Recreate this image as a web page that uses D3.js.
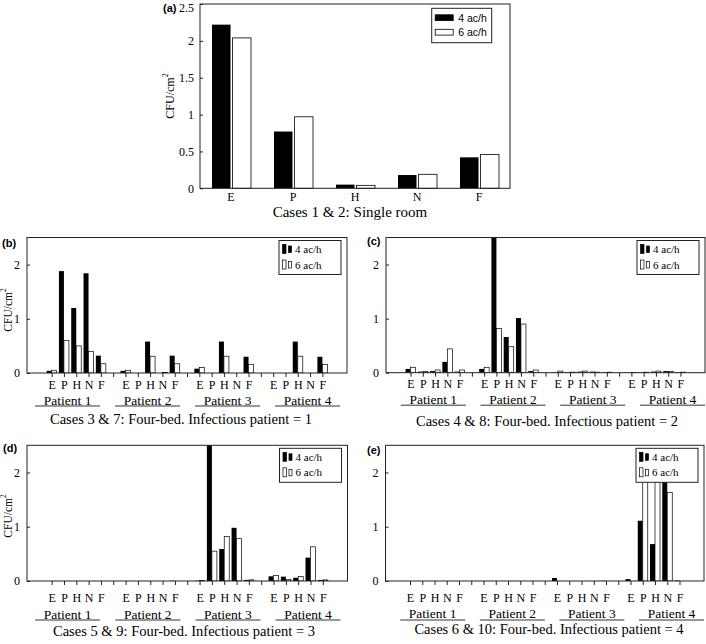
<!DOCTYPE html>
<html>
<head>
<meta charset="utf-8">
<script src="https://cdn.jsdelivr.net/npm/d3@7"></script>
<style>
  html, body { margin: 0; padding: 0; background: #fff; }
  svg { display: block; }
  text { fill: #000; }
</style>
</head>
<body>
<svg id="chart" width="706" height="644"></svg>
<script>
// ---------------- DATA ----------------
const categories = ["E", "P", "H", "N", "F"];
const patients = ["Patient 1", "Patient 2", "Patient 3", "Patient 4"];
const seriesNames = ["4 ac/h", "6 ac/h"];
const yTicksSingle = [0, 0.5, 1, 1.5, 2, 2.5];
const yTicksFour = [0, 1, 2];

// (a) single room, values per category E,P,H,N,F
const singleRoom4 = [2.22, 0.77, 0.05, 0.18, 0.42];
const singleRoom6 = [2.04, 0.97, 0.04, 0.19, 0.46];

// (b)-(e) four-bed, patient-major order: P1 E,P,H,N,F, P2 ..., P3 ..., P4 ...
const caseB4 = [0.04, 1.88, 1.20, 1.84, 0.32,  0.04, 0, 0.58, 0, 0.32,  0.08, 0, 0.58, 0, 0.30,  0, 0, 0.58, 0, 0.30];
const caseB6 = [0.05, 0.60, 0.50, 0.40, 0.17,  0.05, 0, 0.31, 0.01, 0.17,  0.10, 0, 0.31, 0, 0.16,  0, 0, 0.31, 0, 0.16];
const caseC4 = [0.07, 0.02, 0.03, 0.20, 0.02,  0.07, 2.8, 0.66, 1.01, 0.03,  0.01, 0.01, 0.02, 0.02, 0.01,  0.005, 0.01, 0.02, 0.03, 0.01];
const caseC6 = [0.10, 0.02, 0.05, 0.44, 0.05,  0.10, 0.82, 0.48, 0.90, 0.05,  0.03, 0.01, 0.03, 0.01, 0.01,  0.005, 0.01, 0.03, 0.02, 0.01];
const caseD4 = [0, 0, 0, 0, 0,  0, 0, 0, 0, 0.005,  0.005, 2.8, 0.59, 0.98, 0.02,  0.086, 0.08, 0.06, 0.43, 0.02];
const caseD6 = [0, 0, 0, 0, 0,  0, 0, 0, 0, 0,  0.01, 0.55, 0.82, 0.78, 0.02,  0.10, 0.03, 0.086, 0.63, 0.02];
const caseE4 = [0, 0, 0, 0, 0,  0, 0, 0, 0, 0,  0.055, 0, 0, 0, 0.005,  0.035, 1.11, 0.68, 2.0, 0.01];
const caseE6 = [0, 0, 0, 0, 0,  0, 0, 0, 0, 0,  0, 0, 0, 0, 0,  0, 2.3, 2.2, 1.63, 0];

// ---------------- STYLE ----------------
const SERIF = "'Liberation Serif', 'Times New Roman', serif";
const SANS = "'Liberation Sans', Arial, sans-serif";
const FRAME = "#222";

const svg = d3.select("#chart");

function yLabel(g, x, y, size) {
  const t = g.append("text")
    .attr("transform", `translate(${x},${y}) rotate(-90)`)
    .attr("text-anchor", "middle")
    .attr("dominant-baseline", "central")
    .style("font-family", SERIF).style("font-size", size + "px");
  t.append("tspan").text("CFU/cm");
  t.append("tspan").attr("baseline-shift", "super").style("font-size", (size - 4) + "px").text("2");
}

// ---------------- PANEL (a) ----------------
(function () {
  const L = 200, R = 510, T = 4, B = 188.3;
  const x = d3.scaleBand().domain(categories).range([L, R]).padding(0);
  const y = d3.scaleLinear().domain([0, 2.5]).range([B, T]);
  const g = svg.append("g");
  const bw = 18.5;
  const data = categories.map((c, i) => ({ c, v4: singleRoom4[i], v6: singleRoom6[i] }));
  const cx = c => x(c) + x.bandwidth() / 2;

  g.selectAll("rect.b4").data(data).join("rect")
    .attr("x", d => cx(d.c) - bw - 0.5).attr("width", bw)
    .attr("y", d => y(d.v4)).attr("height", d => y(0) - y(d.v4))
    .attr("fill", "#000");
  g.selectAll("rect.b6").data(data).join("rect")
    .attr("x", d => cx(d.c) + 1.5).attr("width", bw)
    .attr("y", d => y(d.v6)).attr("height", d => y(0) - y(d.v6))
    .attr("fill", "#fff").attr("stroke", "#000").attr("stroke-width", 0.8);

  // y axis (inward ticks)
  const ya = g.append("g").attr("transform", `translate(${L},0)`)
    .call(d3.axisLeft(y).tickValues(yTicksSingle).tickFormat(d => String(d)).tickSize(-3).tickPadding(6));
  ya.select(".domain").remove();
  ya.selectAll("line").attr("stroke", FRAME);
  ya.selectAll("text").style("font-family", SERIF).style("font-size", "12px").attr("fill", "#000");
  // keep the top label inside the picture
  ya.selectAll(".tick").filter(d => d === 2.5).select("text").attr("dy", "0.62em");

  const xa = g.append("g").attr("transform", `translate(0,${B})`)
    .call(d3.axisBottom(x).tickSize(0).tickPadding(4));
  xa.select(".domain").remove();
  xa.selectAll("text").style("font-family", SERIF).style("font-size", "12px").attr("fill", "#000");

  g.append("rect").attr("x", L).attr("y", T).attr("width", R - L).attr("height", B - T)
    .attr("fill", "none").attr("stroke", FRAME).attr("stroke-width", 1);

  // legend
  const lg = g.append("g").attr("transform", "translate(431.7,8.3)");
  lg.append("rect").attr("width", 60).attr("height", 34.4).attr("fill", "#fff").attr("stroke", FRAME);
  seriesNames.forEach((s, i) => {
    lg.append("rect").attr("x", 3.5).attr("y", 6.5 + i * 14.5).attr("width", 18).attr("height", 5.8)
      .attr("fill", i === 0 ? "#000" : "#fff").attr("stroke", "#000").attr("stroke-width", 0.8);
    lg.append("text").attr("x", 26.5).attr("y", 9.5 + i * 14.5).attr("dominant-baseline", "central")
      .style("font-family", SANS).style("font-size", "10.5px").text(s);
  });

  svg.append("text").attr("x", 163).attr("y", 8).attr("dominant-baseline", "central")
    .style("font-family", SANS).style("font-size", "11px").style("font-weight", "bold").text("(a)");
  yLabel(svg, 170, 96, 12);
  svg.append("text").attr("x", 350).attr("y", 212).attr("text-anchor", "middle").attr("dominant-baseline", "central")
    .style("font-family", SERIF).style("font-size", "15px").text("Cases 1 & 2: Single room");
})();

// ---------------- PANELS (b)-(e) ----------------
const panels = [
  { letter: "(b)", L: 27, R: 347, T: 237.5, B: 373, v4: caseB4, v6: caseB6, ylab: [8, 310],
    title: "Cases 3 & 7: Four-bed. Infectious patient = 1", titleX: 181,
    labPad: 3, patDy: 27, lineDy: 33, titleDy: 46, patAnchor: 3.3, letterXY: [2, 243] },
  { letter: "(c)", L: 386, R: 705, T: 237.5, B: 372.7, v4: caseC4, v6: caseC6, ylab: null,
    title: "Cases 4 & 8: Four-bed. Infectious patient = 2", titleX: 547,
    labPad: 3, patDy: 26.5, lineDy: 32.5, titleDy: 48, patAnchor: 3.85, letterXY: [367, 241] },
  { letter: "(d)", L: 27, R: 347.5, T: 445.3, B: 581, v4: caseD4, v6: caseD6, ylab: [8, 516],
    title: "Cases 5 & 9: Four-bed. Infectious patient = 3", titleX: 184,
    labPad: 8, patDy: 33, lineDy: 39, titleDy: 50, patAnchor: 3.3, letterXY: [3, 448] },
  { letter: "(e)", L: 385.5, R: 704, T: 445.3, B: 581, v4: caseE4, v6: caseE6, ylab: null,
    title: "Cases 6 & 10: Four-bed. Infectious patient = 4", titleX: 549,
    labPad: 8, patDy: 32.5, lineDy: 39, titleDy: 48, patAnchor: 3.85, letterXY: [367, 450] }
];

panels.forEach((p, k) => {
  const x = d3.scaleLinear().domain([0, 26]).range([p.L, p.R]);
  const y = d3.scaleLinear().domain([0, 2.5]).range([p.B, p.T]);
  const g = svg.append("g");
  const clipId = "clip" + k;
  svg.append("clipPath").attr("id", clipId).append("rect")
    .attr("x", p.L).attr("y", p.T).attr("width", p.R - p.L).attr("height", p.B - p.T);

  const data = [];
  patients.forEach((pt, pi) => categories.forEach((c, ci) => {
    const idx = pi * 5 + ci;
    data.push({ pos: 2 + pi * 6 + ci, v4: p.v4[idx], v6: p.v6[idx] });
  }));
  const bw = 5;
  const bars = g.append("g").attr("clip-path", `url(#${clipId})`);
  bars.selectAll("rect.b4").data(data.filter(d => d.v4 > 0)).join("rect")
    .attr("x", d => x(d.pos) - bw).attr("width", bw)
    .attr("y", d => y(d.v4)).attr("height", d => y(0) - y(d.v4))
    .attr("fill", "#000");
  bars.selectAll("rect.b6").data(data.filter(d => d.v6 > 0)).join("rect")
    .attr("x", d => x(d.pos)).attr("width", bw)
    .attr("y", d => y(d.v6)).attr("height", d => y(0) - y(d.v6))
    .attr("fill", "#fff").attr("stroke", "#000").attr("stroke-width", 0.7);

  // y axis
  const ya = g.append("g").attr("transform", `translate(${p.L},0)`)
    .call(d3.axisLeft(y).tickValues(yTicksFour).tickFormat(d => String(d)).tickSize(-3).tickPadding(7));
  ya.select(".domain").remove();
  ya.selectAll("line").attr("stroke", FRAME);
  ya.selectAll("text").style("font-family", SERIF).style("font-size", "12px").attr("fill", "#000");

  // x axis: ticks at every slot, labels only at category slots
  const slots = d3.range(2, 25);
  const xa = g.append("g").attr("transform", `translate(0,${p.B})`)
    .call(d3.axisBottom(x).tickValues(slots).tickSize(4).tickPadding(p.labPad)
      .tickFormat(d => { const r = (d - 2) % 6; return r < 5 ? categories[r] : ""; }));
  xa.select(".domain").remove();
  xa.selectAll("line").attr("stroke", FRAME);
  xa.selectAll("text").style("font-family", SERIF).style("font-size", "12px").attr("fill", "#000");

  g.append("rect").attr("x", p.L).attr("y", p.T).attr("width", p.R - p.L).attr("height", p.B - p.T)
    .attr("fill", "none").attr("stroke", FRAME).attr("stroke-width", 1);

  // patient labels with underline
  patients.forEach((pt, pi) => {
    const cx = x(p.patAnchor + pi * 6.5);
    g.append("text").attr("x", cx).attr("y", p.B + p.patDy).attr("text-anchor", "middle")
      .attr("dominant-baseline", "central").style("font-family", SERIF).style("font-size", "13.5px").text(pt);
    g.append("line").attr("x1", cx - 32.5).attr("x2", cx + 32.5)
      .attr("y1", p.B + p.lineDy).attr("y2", p.B + p.lineDy).attr("stroke", "#333").attr("stroke-width", 1);
  });

  // legend
  const lg = g.append("g").attr("transform", `translate(${p.R - 68},${p.T + 3})`);
  lg.append("rect").attr("width", 62).attr("height", 34).attr("fill", "#fff").attr("stroke", FRAME);
  seriesNames.forEach((s, i) => {
    const cy = 8.5 + i * 15.5;
    const fill = i === 0 ? "#000" : "#fff";
    lg.append("rect").attr("x", 3.5).attr("y", cy - 4.5).attr("width", 3.5).attr("height", 9)
      .attr("fill", fill).attr("stroke", "#000").attr("stroke-width", 0.7);
    lg.append("rect").attr("x", 9.5).attr("y", cy - 3).attr("width", 3).attr("height", 6.5)
      .attr("fill", fill).attr("stroke", "#000").attr("stroke-width", 0.7);
    lg.append("text").attr("x", 16).attr("y", cy).attr("dominant-baseline", "central")
      .style("font-family", SERIF).style("font-size", "11px").text(s);
  });

  svg.append("text").attr("x", p.letterXY[0]).attr("y", p.letterXY[1]).attr("dominant-baseline", "central")
    .style("font-family", SANS).style("font-size", "11px").style("font-weight", "bold").text(p.letter);
  if (p.ylab) yLabel(svg, p.ylab[0], p.ylab[1], 11.5);
  svg.append("text").attr("x", p.titleX).attr("y", p.B + p.titleDy).attr("text-anchor", "middle")
    .attr("dominant-baseline", "central").style("font-family", SERIF).style("font-size", "14.5px").text(p.title);
});
</script>
</body>
</html>
